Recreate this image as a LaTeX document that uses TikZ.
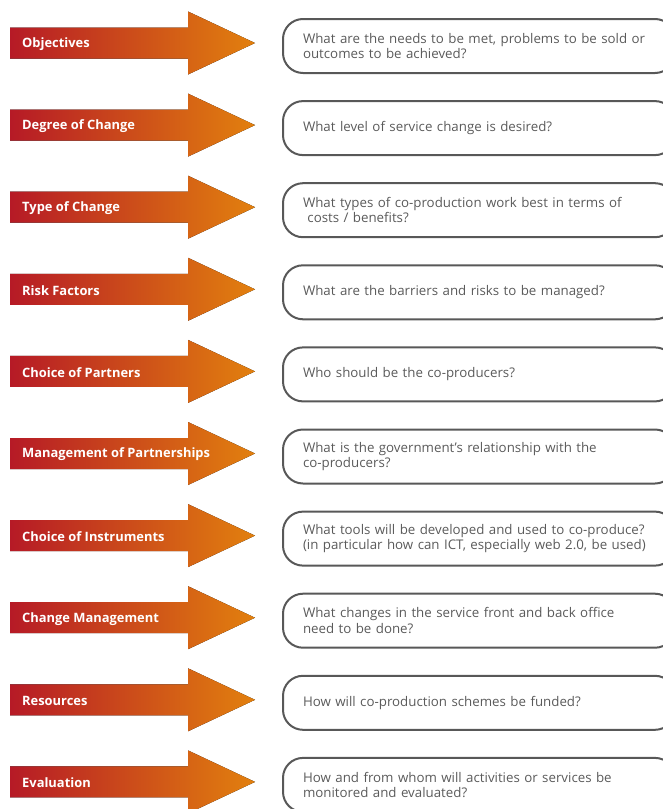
\documentclass[tikz,border=0pt]{standalone}
\usepackage{fontspec}
\setmainfont{Open Sans}
\usepackage{xcolor}
\definecolor{arrred}{RGB}{182,26,38}
\definecolor{arrorange}{RGB}{226,128,14}
\definecolor{boxgray}{RGB}{88,88,88}
\definecolor{txtgray}{RGB}{90,90,90}
\tikzset{
  arrowfill/.style={left color=arrred, right color=arrorange, draw=none},
  lbl/.style={anchor=west, inner sep=0pt, text=white, font=\bfseries\fontsize{12.9}{15}\selectfont},
  qbox/.style={anchor=west, draw=boxgray, line width=2pt, rounded corners=20pt,
    minimum height=54pt, text width=352pt, inner xsep=20pt, inner ysep=0pt, align=left,
    text=txtgray, font=\fontsize{13.3}{15.5}\selectfont}
}

\begin{document}
\begin{tikzpicture}[x=1pt,y=-1pt]
        \useasboundingbox (0,0) rectangle (662,809);
        % one row per step: arrow, label, question box
        \foreach \lbl/\q [count=\i from 0] in {
            {Objectives}/{What are the needs to be met, problems to be sold or\\outcomes to be achieved?},
            {Degree of Change}/{What level of service change is desired?},
            {Type of Change}/{What types of co-production work best in terms of\\\ costs / benefits?},
            {Risk Factors}/{What are the barriers and risks to be managed?},
            {Choice of Partners}/{Who should be the co-producers?},
            {Management of Partnerships}/{What is the government's relationship with the\\co-producers?},
            {Choice of Instruments}/{What tools will be developed and used to co-produce?\\(in particular how can ICT, especially web 2.0, be used)},
            {Change Management}/{What changes in the service front and back office\\need to be done?},
            {Resources}/{How will co-production schemes be funded?},
            {Evaluation}/{How and from whom will activities or services be\\monitored and evaluated?}} {
            \pgfmathsetmacro\y{43+82.1*\i}
            % arrow
            \fill[arrowfill] (10,\y-15.5) -- (188,\y-15.5) -- (188,\y-31.5) -- (255,\y)
                -- (188,\y+31.5) -- (188,\y+15.5) -- (10,\y+15.5) -- cycle;
            \node[lbl] (step\i) at (22,\y+1) {\lbl};
            % question
            \node[qbox] (quest\i) at (282,\y+3) {\q};
        }
\end{tikzpicture}
\end{document}
